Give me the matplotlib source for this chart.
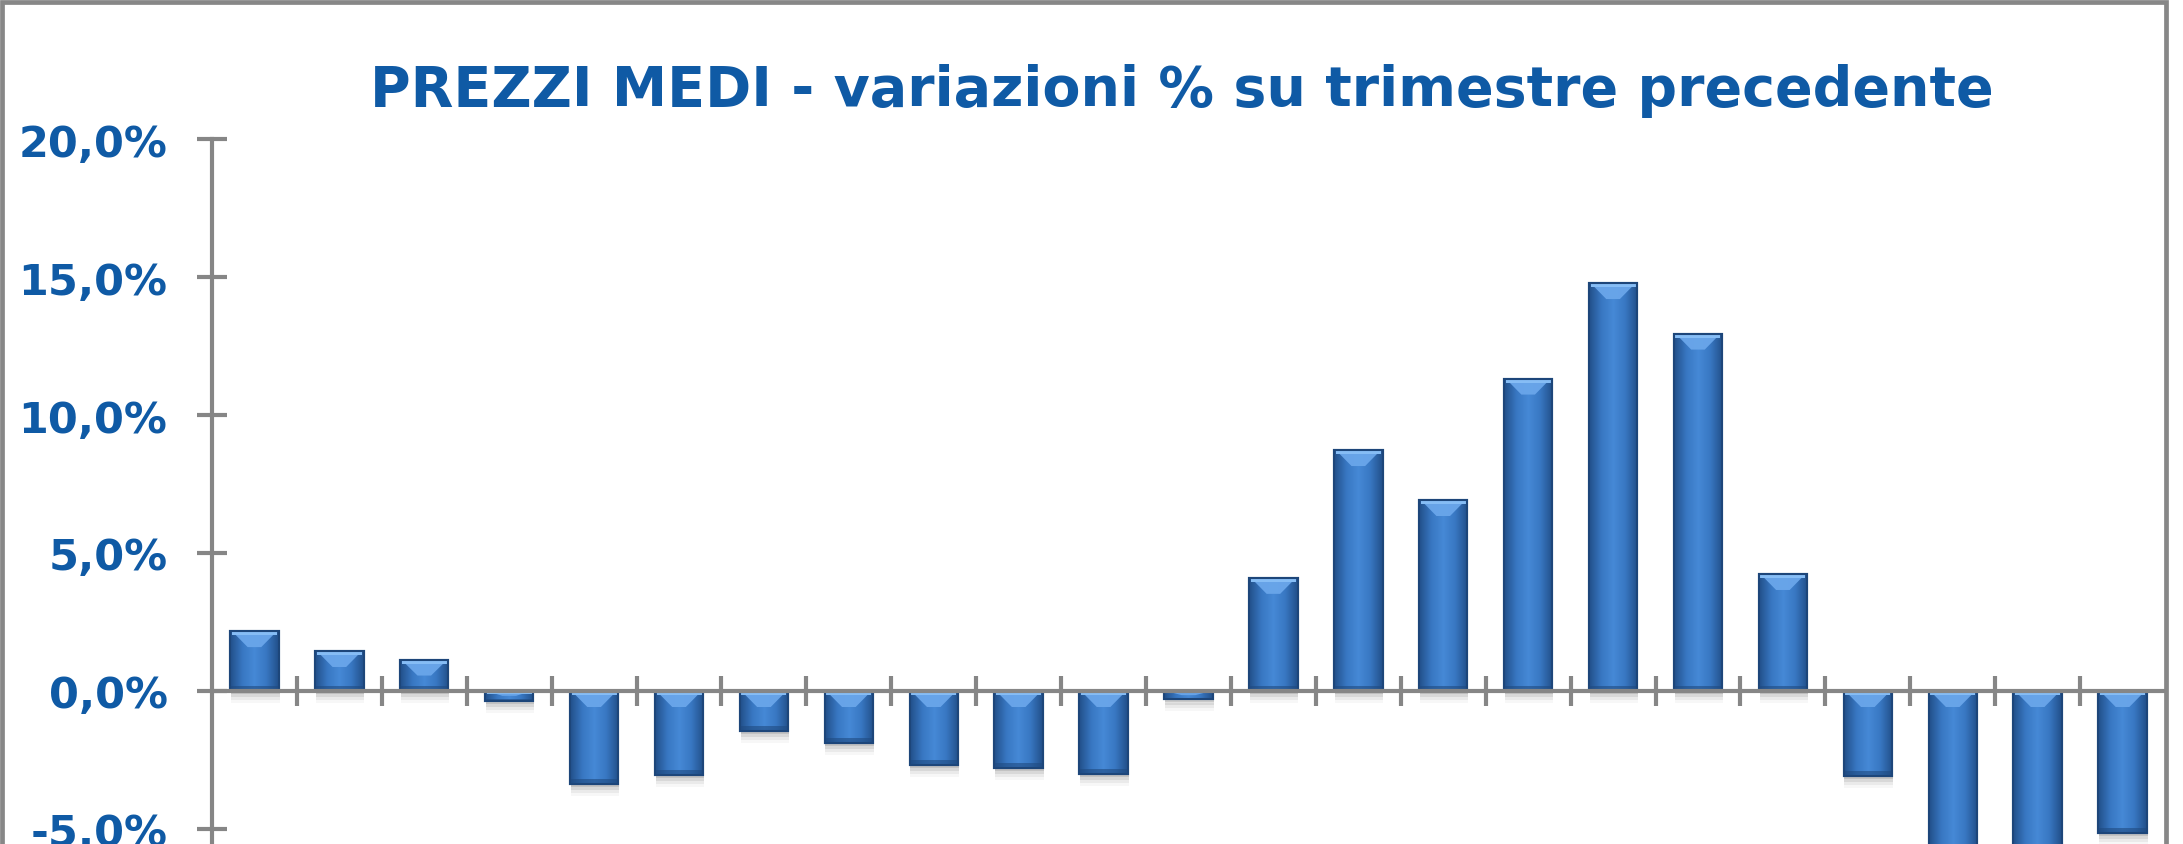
import numpy as np
import matplotlib.pyplot as plt
from matplotlib.patches import Polygon, Rectangle
from matplotlib.colors import LinearSegmentedColormap
from matplotlib.ticker import FuncFormatter

# variazioni % su trimestre precedente (23 trimestri)
quarters = list(range(1, 24))
changes = [2.17, 1.45, 1.12, -0.35, -3.37, -3.03, -1.45, -1.87, -2.68, -2.78,
           -3.0, -0.3, 4.1, 8.73, 6.92, 11.32, 14.78, 12.95, 4.24, -3.08,
           -6.3, -6.1, -5.14]
y_ticks = [-10, -5, 0, 5, 10, 15, 20]
title = "PREZZI MEDI - variazioni % su trimestre precedente"

blue_txt = "#0f5aa5"
grey = "#868686"

W, H = 2183, 845
fig = plt.figure(figsize=(W / 100, H / 100), dpi=100)

# plot area: y axis at x=212 px, right edge at 2165 px, 20% at y=140 px
top_px, px_per_pct = 140, 27.6
ax_h = (y_ticks[-1] - y_ticks[0]) * px_per_pct
ax = fig.add_axes([212 / W, 1 - (top_px + ax_h) / H, (2165 - 212) / W, ax_h / H])

x = np.arange(len(quarters))
bar_w = 0.57
bars = ax.bar(x, changes, width=bar_w, color="#3b7bc8",
              edgecolor="#1d467a", linewidth=1.5, zorder=2)

cmap = LinearSegmentedColormap.from_list(
    "bevel", ["#22508a", "#3877c2", "#4689d6", "#3877c2", "#22508a"])
grad = np.linspace(0, 1, 64).reshape(1, -1)
px = 1 / px_per_pct  # one pixel in data units (y)

for b in bars:
    x0, w = b.get_x(), b.get_width()
    y0, hgt = b.get_y(), b.get_height()
    lo, hi = min(y0, y0 + hgt), max(y0, y0 + hgt)
    # soft drop shadow
    for k, a in zip((3, 6, 9, 12), (0.10, 0.07, 0.05, 0.03)):
        ax.add_patch(Rectangle((x0 + 0.01, lo - k * px), w, hi - lo,
                               facecolor="black", alpha=a, linewidth=0, zorder=1))
    # horizontal shading inside the bar
    im = ax.imshow(grad, cmap=cmap, aspect="auto",
                   extent=[x0, x0 + w, lo, hi], zorder=2.1)
    im.set_clip_path(b)
    # light bevel at the top face
    bev = min(16 * px, (hi - lo) * 0.5)
    ins = w * 0.36
    ax.add_patch(Polygon([[x0 + 0.02, hi], [x0 + w - 0.02, hi],
                          [x0 + w - ins, hi - bev], [x0 + ins, hi - bev]],
                         closed=True, facecolor="#6aa6ea", edgecolor="none",
                         alpha=0.95, zorder=2.2))
    ax.add_patch(Rectangle((x0 + 0.02, hi - min(4 * px, (hi - lo) * 0.3)),
                           w - 0.04, min(4 * px, (hi - lo) * 0.3),
                           facecolor="#86bdf5", linewidth=0, zorder=2.25))
    # darker band at the bottom face
    bb = min(5 * px, (hi - lo) * 0.2)
    ax.add_patch(Rectangle((x0, lo), w, bb, facecolor="#1f4a80",
                           alpha=0.6, linewidth=0, zorder=2.2))
    ax.add_patch(Rectangle((x0, lo), w, hi - lo, facecolor="none",
                           edgecolor="#1d467a", linewidth=1.5, zorder=2.3))

ax.set_xlim(-0.5, len(quarters) - 0.5)
ax.set_ylim(y_ticks[0], y_ticks[-1])

for s in ("top", "right"):
    ax.spines[s].set_visible(False)
ax.spines["bottom"].set_position(("data", 0))
for s in ("left", "bottom"):
    ax.spines[s].set_color(grey)
    ax.spines[s].set_linewidth(3)
    ax.spines[s].set_zorder(3)

ax.set_yticks(y_ticks)
ax.yaxis.set_major_formatter(FuncFormatter(lambda v, p: f"{v:.1f}%".replace(".", ",")))
ax.set_xticks(x[:-1] + 0.5)
ax.set_xticklabels([])
ax.tick_params(axis="both", direction="inout", length=22, width=3, color=grey)
ax.tick_params(axis="y", pad=21, labelsize=31, labelcolor=blue_txt)
for lab in ax.get_yticklabels():
    lab.set_fontweight("bold")
ax.set_facecolor("none")

fig.text(1182 / W, 1 - 106 / H, title, ha="center", va="baseline",
         fontsize=40, fontweight="bold", color=blue_txt)

# grey chart border (bottom edge lies outside the crop)
fig.add_artist(Rectangle((2 / W, -0.2), 2164 / W, 1.2 - 2.5 / H,
                         transform=fig.transFigure, facecolor="none",
                         edgecolor="#878787", linewidth=3.4, zorder=10))

fig.savefig("out.png", dpi=100)
